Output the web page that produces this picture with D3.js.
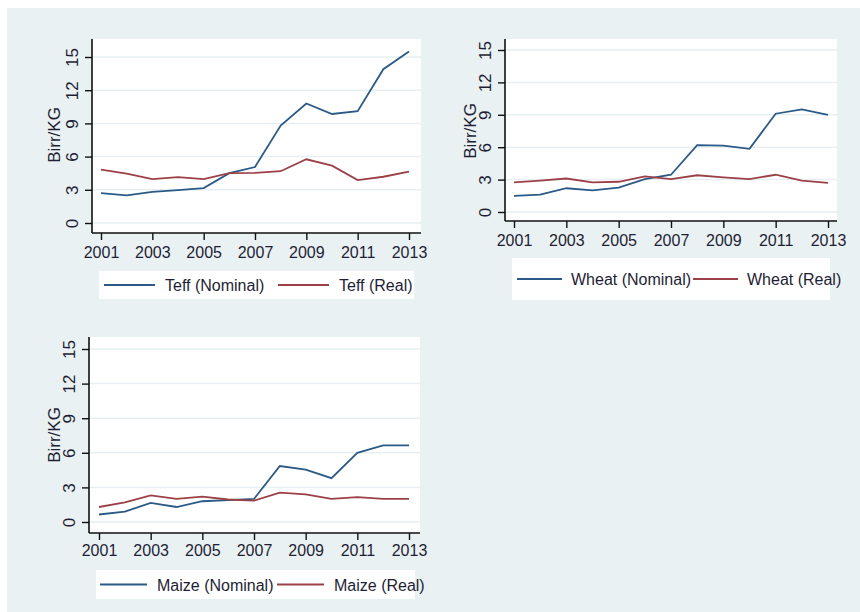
<!DOCTYPE html>
<html>
<head>
<meta charset="utf-8">
<script src="https://cdn.jsdelivr.net/npm/d3@7"></script>
<style>
body{margin:0;background:#fff;}
text{font-family:"Liberation Sans",Arial,sans-serif;fill:#1e1e34;}
</style>
</head>
<body>
<svg id="fig" width="860" height="612"></svg>
<script>
// prices in Birr/KG
var years = [2001,2002,2003,2004,2005,2006,2007,2008,2009,2010,2011,2012,2013];
var yearTicks = [2001,2003,2005,2007,2009,2011,2013];
var yTicks = [0,3,6,9,12,15];

var teffNominal = [2.7,2.5,2.82,2.97,3.15,4.5,5.06,8.8,10.8,9.85,10.1,13.9,15.5];
var teffReal = [4.82,4.47,3.97,4.15,3.97,4.5,4.53,4.68,5.76,5.18,3.88,4.18,4.65];
var wheatNominal = [1.5,1.6,2.2,2.0,2.25,3.05,3.45,6.2,6.15,5.85,9.1,9.5,9.0];
var wheatReal = [2.75,2.9,3.1,2.75,2.8,3.3,3.05,3.4,3.2,3.05,3.45,2.9,2.7];
var maizeNominal = [0.65,0.9,1.65,1.3,1.8,1.9,2.0,4.85,4.55,3.8,6.0,6.65,6.65];
var maizeReal = [1.3,1.7,2.3,2.0,2.2,1.95,1.85,2.55,2.4,2.0,2.15,2.0,2.0];

var legendNames = [["Teff (Nominal)","Teff (Real)"],["Wheat (Nominal)","Wheat (Real)"],["Maize (Nominal)","Maize (Real)"]];

var blue = "#2b5a87", red = "#9c4047";

var svg = d3.select("#fig");
svg.append("rect").attr("x",7).attr("y",8).attr("width",853).attr("height",604).attr("fill","#eaf1f3");

function makePanel(p){
	var x = d3.scaleLinear().domain([2001,2013]).range([p.x0,p.x1]);
	var y = d3.scaleLinear().domain([0,15]).range([p.y0,p.y15]);
	var g = svg.append("g");

	g.append("rect").attr("x",p.left).attr("y",p.top)
	.attr("width",p.right-p.left).attr("height",p.bottom-p.top).attr("fill","#fff");

	g.selectAll("line.grid").data(yTicks).enter()
	.append("line").attr("class","grid")
	.attr("x1",p.left).attr("x2",p.right)
	.attr("y1",d=>y(d)).attr("y2",d=>y(d))
	.attr("stroke","#e6eff1").attr("stroke-width",1.5);

	var lnMkr = d3.line().x((d,i)=>x(years[i])).y(d=>y(d));
	[[p.nominal,blue],[p.real,red]].forEach(function(s){
		g.append("path").attr("d",lnMkr(s[0]))
		.attr("fill","none").attr("stroke",s[1]).attr("stroke-width",1.8);
	});

	var ya = g.append("g").attr("transform","translate("+p.left+",0)")
	.call(d3.axisLeft(y).tickValues(yTicks).tickSize(7).tickSizeOuter(0));
	ya.select(".domain").remove();
	ya.selectAll("line").attr("stroke","#111").attr("stroke-width",1.4);
	ya.selectAll("text").attr("x",null).attr("dy",null)
	.attr("transform","translate(-14,0) rotate(-90)")
	.attr("text-anchor","middle").attr("font-size",17).attr("fill","#1e1e34");

	var xa = g.append("g").attr("transform","translate(0,"+p.bottom+")")
	.call(d3.axisBottom(x).tickValues(yearTicks).tickFormat(d3.format("d")).tickSize(7).tickSizeOuter(0));
	xa.select(".domain").remove();
	xa.selectAll("line").attr("stroke","#111").attr("stroke-width",1.4);
	xa.selectAll("text").attr("y",p.xlab).attr("dy",null)
	.attr("font-size",16).attr("fill","#1e1e34");

	g.append("line").attr("x1",p.left).attr("x2",p.left).attr("y1",p.top).attr("y2",p.bottom)
	.attr("stroke","#111").attr("stroke-width",1.6);
	g.append("line").attr("x1",p.left).attr("x2",p.right).attr("y1",p.bottom).attr("y2",p.bottom)
	.attr("stroke","#111").attr("stroke-width",1.6);

	g.append("text").text("Birr/KG")
	.attr("transform","translate("+p.labX+","+p.labY+") rotate(-90)")
	.attr("text-anchor","middle").attr("font-size",17);

	// legend
	var lg = p.legend;
	g.append("rect").attr("x",lg.x0).attr("y",lg.y0)
	.attr("width",lg.x1-lg.x0).attr("height",lg.y1-lg.y0).attr("fill","#fff");
	var cy = (lg.y0+lg.y1)/2;
	[blue,red].forEach(function(c,i){
		g.append("line").attr("x1",lg.items[i]).attr("x2",lg.items[i]+lg.len)
		.attr("y1",cy).attr("y2",cy).attr("stroke",c).attr("stroke-width",1.8);
		g.append("text").text(p.names[i])
		.attr("x",lg.items[i]+lg.len+lg.gap).attr("y",cy+6).attr("font-size",16);
	});
}

makePanel({left:92,right:421,top:39,bottom:233,x0:101,x1:409,y0:223,y15:57,xlab:25,
	labX:60,labY:135,nominal:teffNominal,real:teffReal,names:legendNames[0],
	legend:{x0:99,x1:414,y0:271,y1:299,items:[104,278],len:51,gap:10}});
makePanel({left:505,right:837,top:39,bottom:221,x0:514,x1:828,y0:212,y15:50,xlab:25,
	labX:476,labY:131,nominal:wheatNominal,real:wheatReal,names:legendNames[1],
	legend:{x0:512,x1:830,y0:258,y1:300,items:[517,693],len:45,gap:9}});
makePanel({left:89,right:420,top:337,bottom:533,x0:99,x1:409,y0:522,y15:349,xlab:23,
	labX:60,labY:435,nominal:maizeNominal,real:maizeReal,names:legendNames[2],
	legend:{x0:96,x1:415,y0:570,y1:599,items:[100,277],len:47,gap:10}});
</script>
</body>
</html>
